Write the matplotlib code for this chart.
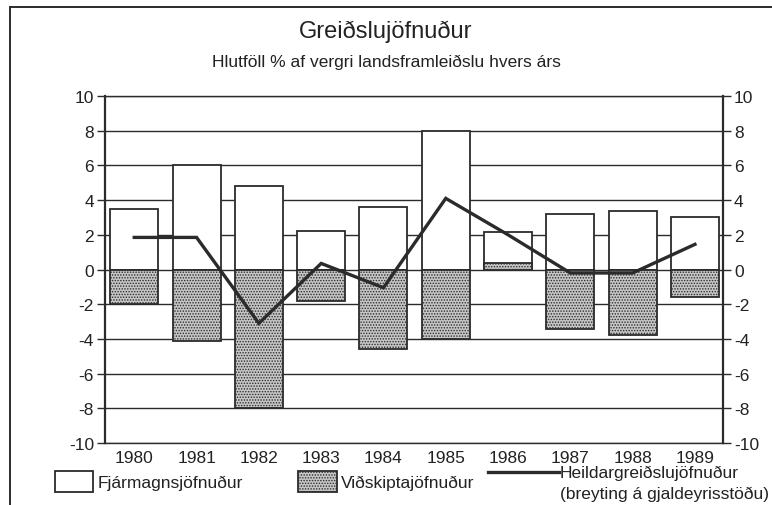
import matplotlib
matplotlib.use('Agg')
import matplotlib.pyplot as plt
from matplotlib.patches import Rectangle
from matplotlib.lines import Line2D
import numpy as np

plt.rcParams['font.family'] = ['Liberation Sans', 'DejaVu Sans']
plt.rcParams['hatch.color'] = '#3a3a3a'
plt.rcParams['hatch.linewidth'] = 0.7

# data (% of GDP)
years = ['1980', '1981', '1982', '1983', '1984', '1985', '1986', '1987', '1988', '1989']
fjarmagn = [3.5, 6.0, 4.8, 2.2, 3.6, 8.0, 2.15, 3.2, 3.35, 3.0]
vidskipta = [-2.0, -4.1, -8.0, -1.8, -4.6, -4.0, 0.4, -3.4, -3.75, -1.6]
heildar = [1.85, 1.85, -3.1, 0.35, -1.05, 4.1, 2.0, -0.2, -0.2, 1.45]

ink = '#2b2b2b'
stipple = '#c6c6c6'
x = np.arange(len(years))

fig = plt.figure(figsize=(7.72, 5.06), dpi=100)
ax = fig.add_axes([0.136, 0.1225, 0.8005, 0.6858])

ax.bar(x, fjarmagn, width=0.77, facecolor='white', edgecolor=ink, linewidth=1.3, zorder=2)
ax.bar(x, vidskipta, width=0.77, facecolor=stipple, edgecolor=ink, linewidth=1.3,
       hatch='......', zorder=3)
ax.plot(x, heildar, color=ink, linewidth=2.4, zorder=4, solid_joinstyle='miter')

ax.set_xlim(-0.47, 9.45)
ax.set_ylim(-10, 10)
ax.set_yticks(np.arange(-10, 11, 2))
ax.set_yticklabels([str(v) for v in range(-10, 11, 2)])
ax.set_xticks(x)
ax.set_xticklabels(years)
ax.yaxis.grid(True, color=ink, linewidth=1.0)
ax.set_axisbelow(True)
ax.tick_params(axis='y', left=True, right=True, labelright=True, direction='out',
               length=6, width=1.0, color=ink, labelsize=12.5, labelcolor='#222222', pad=2)
ax.tick_params(axis='x', length=0, labelsize=12.5, labelcolor='#222222', pad=5)
for side in ['left', 'right']:
    ax.spines[side].set_linewidth(1.6)
    ax.spines[side].set_color(ink)
for side in ['top', 'bottom']:
    ax.spines[side].set_linewidth(1.0)
    ax.spines[side].set_color(ink)

fig.text(0.5, 0.938, 'Greiðslujöfnuður', ha='center', va='center', fontsize=17, color='#222222')
fig.text(0.5, 0.877, 'Hlutföll % af vergri landsframleiðslu hvers árs', ha='center', va='center',
         fontsize=12.5, color='#222222')

# outer frame
fig.add_artist(Rectangle((10 / 772, -0.1), 1.2, 1 - 8 / 506 + 0.1, transform=fig.transFigure,
                         facecolor='none', edgecolor=ink, linewidth=1.4, clip_on=False))

# legend
W, H = 772, 506
def px(xp, yp):
    return xp / W, 1 - yp / H

fig.add_artist(Rectangle(px(55, 493), 38 / W, 21 / H, transform=fig.transFigure,
                         facecolor='white', edgecolor=ink, linewidth=1.3))
fig.text(*px(98, 483), 'Fjármagnsjöfnuður', ha='left', va='center', fontsize=12.5, color='#222222')
fig.add_artist(Rectangle(px(298, 493), 39 / W, 21 / H, transform=fig.transFigure,
                         facecolor=stipple, edgecolor=ink, linewidth=1.3, hatch='......'))
fig.text(*px(341, 483), 'Viðskiptajöfnuður', ha='left', va='center', fontsize=12.5, color='#222222')
fig.add_artist(Line2D([488 / W, 559 / W], [1 - 473 / H, 1 - 473 / H], transform=fig.transFigure,
                      color=ink, linewidth=2.4))
fig.text(*px(560, 473), 'Heildargreiðslujöfnuður', ha='left', va='center', fontsize=12.5, color='#222222')
fig.text(*px(560, 494), '(breyting á gjaldeyrisstöðu)', ha='left', va='center', fontsize=12.5,
         color='#222222')

fig.savefig('out.png', dpi=100)
